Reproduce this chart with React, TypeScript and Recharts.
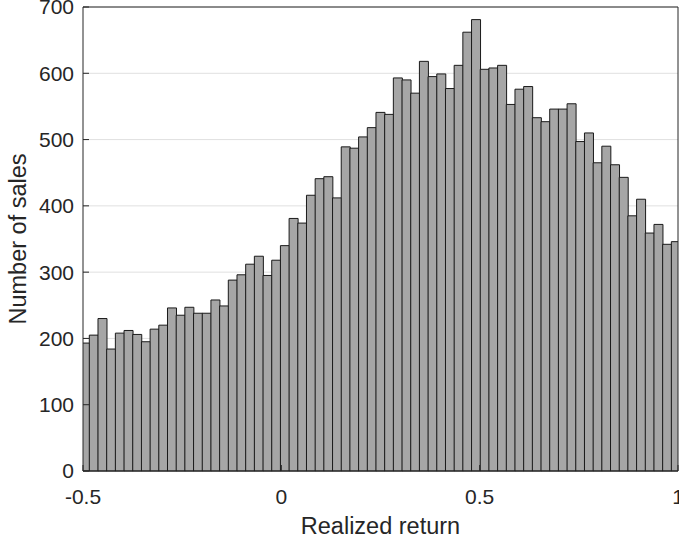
import { BarChart, Bar, XAxis, YAxis, CartesianGrid } from "recharts";

// histogram bins: left edge of the first bin and the bin width
const BIN_START = -0.506;
const BIN_WIDTH = 0.0219;

const counts = [
  193, 205, 230, 184, 208, 212, 206, 195, 214, 220,
  246, 235, 247, 238, 238, 258, 249, 288, 296, 312,
  324, 295, 318, 340, 381, 374, 416, 441, 444, 412,
  489, 487, 504, 518, 541, 538, 593, 590, 570, 618,
  595, 599, 577, 612, 662, 681, 606, 608, 612, 553,
  576, 580, 533, 527, 546, 546, 554, 497, 510, 465,
  490, 462, 443, 385, 410, 359, 372, 342, 346,
];

const xTicks = [-0.5, 0, 0.5, 1];
const yTicks = [0, 100, 200, 300, 400, 500, 600, 700];

const xTitle = "Realized return";
const yTitle = "Number of sales";

const data = counts.map((n, i) => ({ x: BIN_START + BIN_WIDTH * (i + 0.5), n }));

const FONT = "'Liberation Sans', Arial, Helvetica, sans-serif";
const INK = "#262626";

function XTitle({ viewBox }: any) {
  const cx = viewBox.x + viewBox.width / 2;
  return (
    <text x={cx} y={534} textAnchor="middle" fill={INK} fontSize={23.5} fontFamily={FONT}>
      {xTitle}
    </text>
  );
}

function YTitle({ viewBox }: any) {
  const cx = 18;
  const cy = viewBox.y + viewBox.height / 2;
  return (
    <text
      x={cx}
      y={cy}
      transform={`rotate(-90 ${cx} ${cy})`}
      textAnchor="middle"
      dominantBaseline="central"
      fill={INK}
      fontSize={23.5}
      fontFamily={FONT}
    >
      {yTitle}
    </text>
  );
}

export default function App() {
  const tickStyle = { fill: INK, fontSize: 21, fontFamily: FONT };
  return (
    <div style={{ position: "absolute", left: 0, top: 0, background: "#fff", fontFamily: FONT }}>
      <BarChart
        width={679}
        height={543}
        data={data}
        margin={{ top: 6, right: 0, left: 0, bottom: 0 }}
        barCategoryGap={0}
        barGap={0}
      >
        <CartesianGrid xAxisId="bottom" yAxisId="left" vertical={false} stroke="#e0e0e0" />
        <XAxis
          xAxisId="bottom"
          dataKey="x"
          type="number"
          domain={[-0.5, 1]}
          ticks={xTicks}
          interval={0}
          allowDataOverflow
          height={72}
          tickSize={-6}
          tickMargin={24}
          tick={tickStyle}
          stroke={INK}
          label={<XTitle />}
        />
        <XAxis
          xAxisId="top"
          orientation="top"
          dataKey="x"
          type="number"
          domain={[-0.5, 1]}
          ticks={xTicks}
          interval={0}
          allowDataOverflow
          height={1}
          tickSize={-6}
          tick={false}
          stroke={INK}
        />
        <YAxis
          yAxisId="left"
          domain={[0, 700]}
          ticks={yTicks}
          interval={0}
          width={83}
          tickSize={-6}
          tickMargin={15}
          tick={tickStyle}
          stroke={INK}
          label={<YTitle />}
        />
        <YAxis
          yAxisId="right"
          orientation="right"
          domain={[0, 700]}
          ticks={yTicks}
          interval={0}
          width={1}
          tickSize={-6}
          tick={false}
          stroke={INK}
        />
        <Bar
          xAxisId="bottom"
          yAxisId="left"
          dataKey="n"
          fill="#a6a6a6"
          stroke="#1a1a1a"
          strokeWidth={1}
          isAnimationActive={false}
        />
      </BarChart>
    </div>
  );
}
